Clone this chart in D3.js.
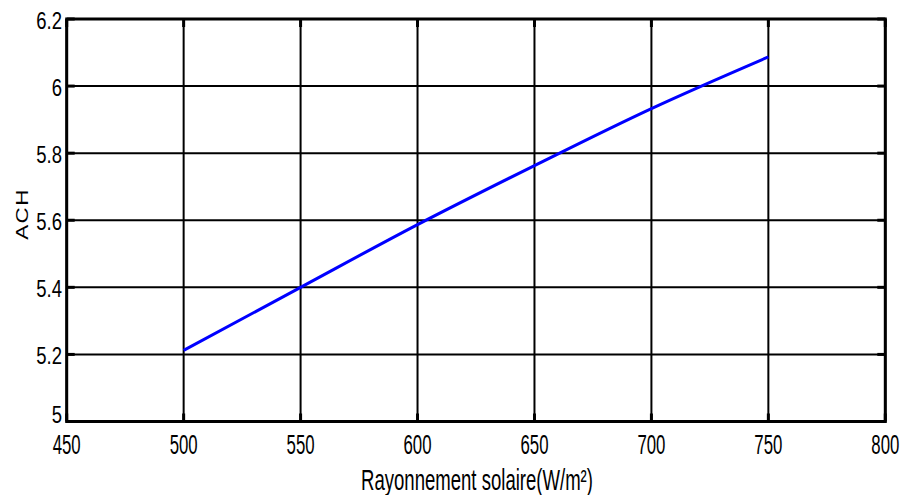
<!DOCTYPE html>
<html>
<head>
<meta charset="utf-8">
<script src="https://cdn.jsdelivr.net/npm/d3@7"></script>
<style>
  html, body { margin: 0; padding: 0; background: #fff; }
  svg { display: block; }
  text { font-family: "Liberation Sans", Arial, sans-serif; fill: #000; }
</style>
</head>
<body>
<svg id="chart" width="904" height="495"></svg>
<script>
// Solar irradiance (W/m²) and resulting air changes per hour
const irradiance = [500, 550, 600, 650, 700, 750];
const ach = [5.212, 5.400, 5.587, 5.763, 5.933, 6.087];

const xTicks = [450, 500, 550, 600, 650, 700, 750, 800];
const yTicks = [5, 5.2, 5.4, 5.6, 5.8, 6, 6.2];

const xTitle = "Rayonnement solaire(W/m²)";
const yTitle = "ACH";

const svg = d3.select("#chart");
const plotLeft = 66.7, plotRight = 885.3, plotTop = 19, plotBottom = 421.5;

const x = d3.scaleLinear().domain([450, 800]).range([plotLeft, plotRight]);
const y = d3.scaleLinear().domain([5, 6.2]).range([plotBottom, plotTop]);

// grid
const grid = svg.append("g");
grid.selectAll("line.vx").data(xTicks).join("line")
  .attr("class", "vx")
  .attr("x1", d => x(d)).attr("x2", d => x(d))
  .attr("y1", plotTop).attr("y2", plotBottom)
  .attr("stroke", "#000").attr("stroke-width", 2);
grid.selectAll("line.hy").data(yTicks).join("line")
  .attr("class", "hy")
  .attr("y1", d => y(d)).attr("y2", d => y(d))
  .attr("x1", plotLeft).attr("x2", plotRight)
  .attr("stroke", "#000").attr("stroke-width", 2);

// inward tick marks on every side of the box
const tickLen = 8;
const ticks = svg.append("g").attr("stroke", "#000").attr("stroke-width", 3);
xTicks.forEach(d => {
  ticks.append("line").attr("x1", x(d)).attr("x2", x(d)).attr("y1", plotBottom).attr("y2", plotBottom - tickLen);
  ticks.append("line").attr("x1", x(d)).attr("x2", x(d)).attr("y1", plotTop).attr("y2", plotTop + tickLen);
});
yTicks.forEach(d => {
  ticks.append("line").attr("y1", y(d)).attr("y2", y(d)).attr("x1", plotLeft).attr("x2", plotLeft + tickLen);
  ticks.append("line").attr("y1", y(d)).attr("y2", y(d)).attr("x1", plotRight).attr("x2", plotRight - tickLen);
});

// series
const line = d3.line()
  .x((d, i) => x(irradiance[i]))
  .y(d => y(d))
  .curve(d3.curveMonotoneX);
svg.append("path")
  .datum(ach)
  .attr("d", line)
  .attr("fill", "none")
  .attr("stroke", "#0000ff")
  .attr("stroke-width", 3);

// axes box
svg.append("rect")
  .attr("x", plotLeft).attr("y", plotTop)
  .attr("width", plotRight - plotLeft).attr("height", plotBottom - plotTop)
  .attr("fill", "none").attr("stroke", "#000").attr("stroke-width", 3);

// tick labels
const fmt = d => (Number.isInteger(d) ? String(d) : d.toFixed(1));
svg.append("g").selectAll("g").data(xTicks).join("g")
  .attr("transform", d => `translate(${x(d)},454) scale(0.6,1)`)
  .append("text")
  .attr("text-anchor", "middle")
  .attr("font-size", 28)
  .text(d => d);

// the lowest y label sits just above the x labels
svg.append("g").selectAll("g").data(yTicks).join("g")
  .attr("transform", d => `translate(62,${d === 5 ? y(d) + 1.5 : y(d) + 10}) scale(0.77,1)`)
  .append("text")
  .attr("text-anchor", "end")
  .attr("font-size", 24)
  .text(fmt);

// axis titles
svg.append("g")
  .attr("transform", "translate(477,490) scale(0.64,1)")
  .append("text")
  .attr("text-anchor", "middle")
  .attr("font-size", 29)
  .text(xTitle);

svg.append("g")
  .attr("transform", "translate(28.3,214) rotate(-90) scale(1.4,1)")
  .append("text")
  .attr("text-anchor", "middle")
  .attr("font-size", 16)
  .attr("letter-spacing", 1)
  .text(yTitle);
</script>
</body>
</html>
